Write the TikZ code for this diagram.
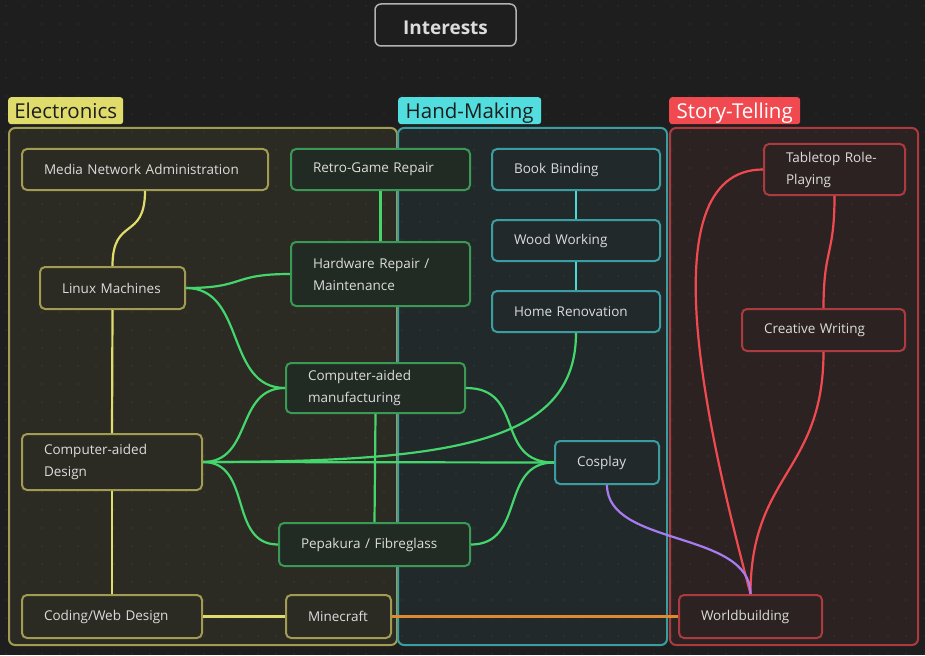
\documentclass[tikz,border=0pt]{standalone}
\usepackage{fontspec}
\setmainfont{Open Sans}

\definecolor{bgcol}{HTML}{1E1E1E}
\definecolor{txtcol}{HTML}{DCDCDC}
\definecolor{elecline}{HTML}{A29C52}
\definecolor{elecfill}{HTML}{2B2A23}
\definecolor{eleclabel}{HTML}{E0DC6C}
\definecolor{handline}{HTML}{3A9EA0}
\definecolor{handfill}{HTML}{22292B}
\definecolor{handlabel}{HTML}{52DEDE}
\definecolor{storyline}{HTML}{AC3A3F}
\definecolor{storyfill}{HTML}{2D2222}
\definecolor{storylabel}{HTML}{F04A50}
\definecolor{greenline}{HTML}{3A9A55}
\definecolor{greenfill}{HTML}{212A23}
\definecolor{greenedge}{HTML}{44D66C}
\definecolor{yellowedge}{HTML}{E0DC6C}
\definecolor{tealedge}{HTML}{4AD8D8}
\definecolor{rededge}{HTML}{F04A50}
\definecolor{purpleedge}{HTML}{A77CF0}
\definecolor{orangeedge}{HTML}{E08A30}

\begin{document}
\begin{tikzpicture}[x=1pt,y=-1pt,
  groupbox/.style={rounded corners=6pt, line width=2pt},
  grouplabel/.style={anchor=north west, rounded corners=3pt, minimum height=27pt,
    inner sep=0pt, text height=16pt, text depth=0pt,
    font=\fontsize{20.5}{24}\selectfont},
  item/.style={draw, rounded corners=5pt, line width=2pt, anchor=north west,
    inner xsep=22pt, inner ysep=0pt, align=left, text=txtcol,
    font=\fontsize{13.5}{22}\selectfont},
  elec/.style={item, draw=elecline, fill=elecfill},
  green/.style={item, draw=greenline, fill=greenfill},
  teal/.style={item, draw=handline, fill=handfill},
  red/.style={item, draw=storyline, fill=storyfill},
  link/.style={line width=2.2pt}]
\useasboundingbox (0,0) rectangle (925,655);
\fill[bgcol] (0,0) rectangle (925,655);

% groups
\draw[groupbox, draw=elecline, fill=elecfill] (9,128) rectangle (397,645);
\draw[groupbox, draw=handline, fill=handfill] (398,128) rectangle (667,645);
\draw[groupbox, draw=storyline, fill=storyfill] (670,128) rectangle (918,645);

% dot grid
\foreach \i in {0,...,51}
  \foreach \j in {0,...,36}
    \fill[white, opacity=0.07] (\i*18+6,\j*18+6) circle (0.8);

\node[draw=gray!60, fill=bgcol, line width=1.5pt, rounded corners=6pt,
  minimum width=141pt, minimum height=42pt, text=txtcol,
  text height=19pt, text depth=0pt,
  font=\fontsize{19}{24}\selectfont\bfseries] (title) at (445.5,25) {Interests};

\node[grouplabel, fill=eleclabel, text=bgcol, minimum width=115pt] (electronics) at (8,97) {Electronics};
\node[grouplabel, fill=handlabel, text=bgcol, minimum width=143pt] (handmaking) at (398,97) {Hand-Making};
\node[grouplabel, fill=storylabel, text=white, minimum width=131pt] (storytelling) at (669,97) {Story-Telling};

% Electronics
\node[elec, text width=202pt, minimum height=41pt] (media) at (21,148) {Media Network Administration};
\node[elec, text width=101pt, minimum height=42pt] (linux) at (39,266) {Linux Machines};
\node[elec, text width=136pt, minimum height=56pt] (cad) at (21,433) {Computer-aided\\Design};
\node[elec, text width=136pt, minimum height=43pt] (coding) at (21,594) {Coding/Web Design};
\node[elec, text width=61pt, minimum height=43pt] (minecraft) at (285,594) {Minecraft};
\node[green, text width=135pt, minimum height=41pt] (retro) at (290,148) {Retro-Game Repair};
\node[green, text width=135pt, minimum height=64pt] (hardware) at (290,241) {Hardware Repair /\\Maintenance};
\node[green, text width=135pt, minimum height=50pt] (cam) at (285,362) {Computer-aided\\manufacturing};
\node[green, text width=147pt, minimum height=43pt] (pepakura) at (278,522) {Pepakura / Fibreglass};

% Hand-Making
\node[teal, text width=124pt, minimum height=41pt] (book) at (491,148) {Book Binding};
\node[teal, text width=124pt, minimum height=41pt] (wood) at (491,219) {Wood Working};
\node[teal, text width=124pt, minimum height=41pt] (home) at (491,290) {Home Renovation};
\node[teal, text width=60pt, minimum height=43pt] (cosplay) at (554,440) {Cosplay};

% Story-Telling
\node[red, text width=97pt, minimum height=51pt] (tabletop) at (763,143) {Tabletop Role-\\Playing};
\node[red, text width=119pt, minimum height=42pt] (creative) at (741,308) {Creative Writing};
\node[red, text width=99pt, minimum height=43pt] (world) at (678,594) {Worldbuilding};

% links
\draw[link, yellowedge] (media.south) .. controls +(0,50) and +(0,-50) .. (linux.north);
\draw[link, yellowedge] (linux.south) -- (cad.north);
\draw[link, yellowedge] (cad.south) -- (coding.north);
\draw[link, yellowedge] (coding.east) -- (minecraft.west);
\draw[link, orangeedge] (minecraft.east) -- (world.west);

\draw[link, greenedge] (retro.south) -- (hardware.north);
\draw[link, greenedge] (linux.east) .. controls +(60,0) and +(-60,0) .. (hardware.west);
\draw[link, greenedge] (linux.east) .. controls +(60,0) and +(-60,0) .. (cam.west);
\draw[link, greenedge] (cad.east) .. controls +(50,0) and +(-50,0) .. (cam.west);
\draw[link, greenedge] (cad.east) .. controls +(50,0) and +(-50,0) .. (pepakura.west);
\draw[link, greenedge] (cad.east) -- (cosplay.west);
\draw[link, greenedge] (cad.east) .. controls +(250,0) and +(0,110) .. (home.south);
\draw[link, greenedge] (cam.east) .. controls +(60,0) and +(-60,0) .. (cosplay.west);
\draw[link, greenedge] (pepakura.east) .. controls +(55,0) and +(-55,0) .. (cosplay.west);
\draw[link, greenedge] (cam.south) -- (pepakura.north);

\draw[link, tealedge] (book.south) -- (wood.north);
\draw[link, tealedge] (wood.south) -- (home.north);

\draw[link, rededge] (tabletop.south) .. controls +(0,60) and +(0,-60) .. (creative.north);
\draw[link, rededge] (tabletop.west) .. controls +(-120,0) and +(-38,-144) .. (world.north);
\draw[link, rededge] (creative.south) .. controls +(0,120) and +(0,-120) .. (world.north);
\draw[link, purpleedge] (cosplay.south) .. controls +(0,62) and +(0,-64) .. (world.north);
\end{tikzpicture}
\end{document}
